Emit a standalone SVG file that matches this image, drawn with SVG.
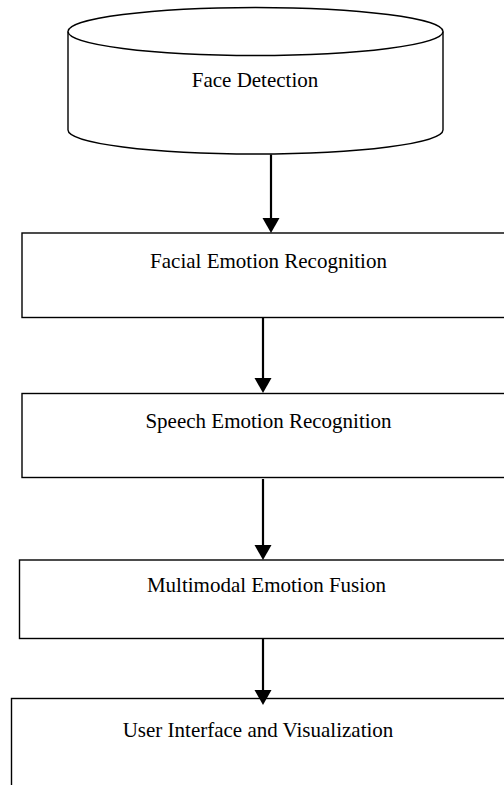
<svg xmlns="http://www.w3.org/2000/svg" width="504" height="785" viewBox="0 0 504 785">
<style>
.shape{fill:#fff;stroke:#000;stroke-width:1.4}
.lbl{font-family:"Liberation Serif","Times New Roman",serif;font-size:21px;fill:#000;text-anchor:middle}
.conn{stroke:#000;stroke-width:2.2;fill:none}
</style>
<defs>
<marker id="ah" markerUnits="userSpaceOnUse" markerWidth="16" markerHeight="18" refX="11" refY="8.5" orient="auto" viewBox="0 0 16 18">
<path d="M0,0 L15,8.5 L0,17 z" fill="#000"/>
</marker>
</defs>
<rect width="504" height="785" fill="#fff"/>
<g id="face-detection">
<path class="shape" d="M68,31.5 L68,130 A187.5,24 0 0 0 443,130 L443,31.5"/>
<ellipse class="shape" cx="255.5" cy="31.5" rx="187.5" ry="24"/>
<text class="lbl" x="255" y="87">Face Detection</text>
</g>
<g id="facial-emotion">
<rect class="shape" x="22" y="233" width="500" height="84.5"/>
<text class="lbl" x="268.5" y="268">Facial Emotion Recognition</text>
</g>
<g id="speech-emotion">
<rect class="shape" x="22" y="393.5" width="500" height="84"/>
<text class="lbl" x="268.5" y="428">Speech Emotion Recognition</text>
</g>
<g id="multimodal-fusion">
<rect class="shape" x="19.5" y="560" width="500" height="78.5"/>
<text class="lbl" x="266.5" y="592">Multimodal Emotion Fusion</text>
</g>
<g id="user-interface">
<rect class="shape" x="11.5" y="698.5" width="510" height="120"/>
<text class="lbl" x="258" y="737">User Interface and Visualization</text>
</g>
<g id="connectors">
<path class="conn" d="M271,154.5 L271,229" marker-end="url(#ah)"/>
<path class="conn" d="M263,318 L263,389" marker-end="url(#ah)"/>
<path class="conn" d="M263,479 L263,556" marker-end="url(#ah)"/>
<path class="conn" d="M263,639 L263,701" marker-end="url(#ah)"/>
</g>
</svg>
